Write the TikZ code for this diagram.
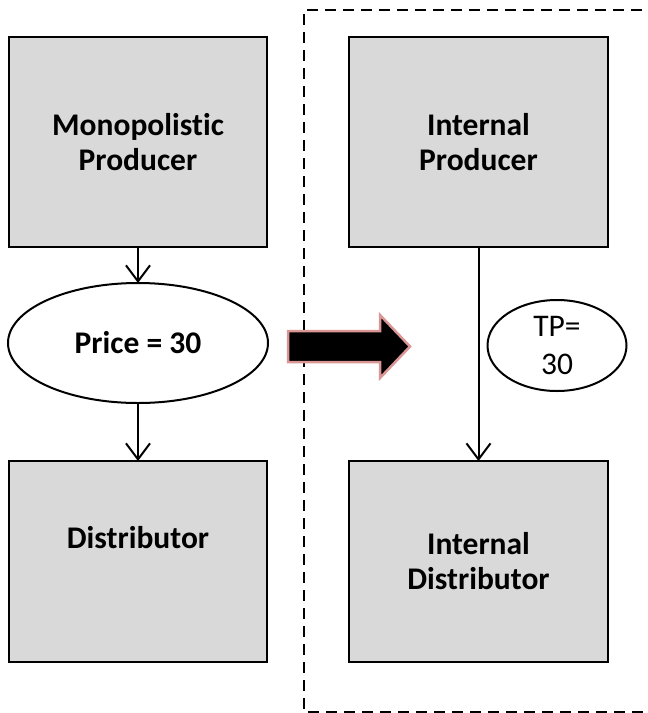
\documentclass[tikz,border=0pt]{standalone}
\usepackage{fontspec}
\setmainfont{Carlito}[Ligatures=NoCommon]
\usetikzlibrary{arrows.meta,shapes.geometric}
\definecolor{boxfill}{HTML}{D9D9D9}
\definecolor{arrowedge}{HTML}{D99694}
\tikzset{
  box/.style={draw=black, line width=2pt, fill=boxfill, inner sep=0pt, outer sep=0pt,
    minimum width=258pt, align=center, font=\fontsize{31.5}{35}\selectfont\bfseries},
  oval/.style={draw=black, line width=2pt, fill=white, ellipse, inner sep=0pt, outer sep=0pt, align=center},
  flow/.style={line width=2pt, -{Straight Barb[length=16pt,width=24pt,line width=2pt]}},
  boxlabel/.style={align=center, font=\fontsize{31.5}{35}\selectfont\bfseries}
}
\begin{document}
\begin{tikzpicture}[x=1pt,y=-1pt]
\useasboundingbox (0,0) rectangle (648,713);

% dashed frame around the internal pair (open to the right)
\begin{scope}
  \clip (0,0) rectangle (648,713);
  \draw[line width=2pt, dash pattern=on 11pt off 7pt]
    (660,10) -- (304,10) -- (304,712) -- (660,712);
\end{scope}

% left column
\node[box, minimum height=210pt] (mp) at (138,142) {Monopolistic\\Producer};
\node[oval, minimum width=260pt, minimum height=120pt,
      font=\fontsize{31.5}{35}\selectfont\bfseries] (price) at (138,343) {Price = 30};
\node[box, minimum height=201pt] (dist) at (138,561.5) {};
\node[boxlabel, anchor=base] at (138,548) {Distributor};

% right column
\node[box, minimum width=259pt, minimum height=210pt] (ip) at (478.5,142) {Internal\\Producer};
\node[box, minimum width=259pt, minimum height=201pt] (id) at (478.5,561.5) {Internal\\Distributor};
\node[oval, minimum width=139pt, minimum height=91pt,
      font=\fontsize{31.5}{38}\selectfont] (tp) at (557,345.5) {TP=\\30};

% connectors
\draw[flow] (mp.south) -- (price.north);
\draw[flow] (price.south) -- (dist.north);
\draw[flow] (ip.south) -- (id.north);

% block arrow between the two set-ups
\draw[fill=black, draw=arrowedge, line width=2.5pt, line join=miter]
  (288,331) -- (380,331) -- (380,315) -- (410,346.5) -- (380,378) -- (380,362) -- (288,362) -- cycle;
\end{tikzpicture}
\end{document}
